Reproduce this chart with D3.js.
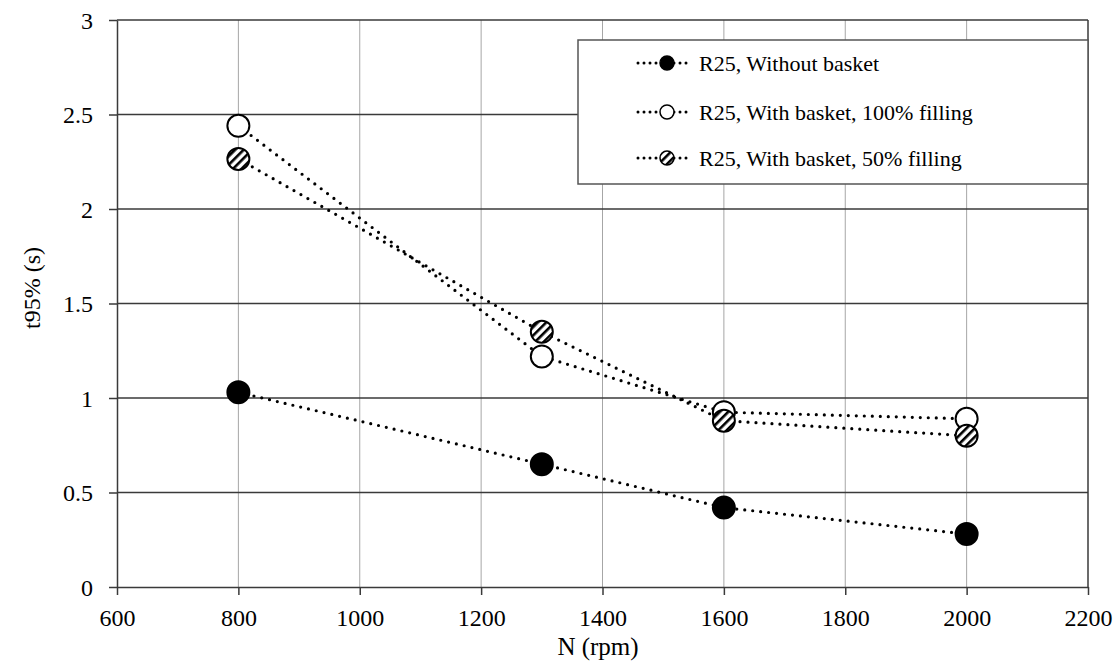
<!DOCTYPE html>
<html>
<head>
<meta charset="utf-8">
<script src="https://cdn.jsdelivr.net/npm/d3@7"></script>
<style>
  body { margin: 0; background: #fff; }
  svg text { font-family: "Liberation Serif", "DejaVu Serif", serif; fill: #000; }
</style>
</head>
<body>
<div id="chart"></div>
<script>
// Data
const rpm = [800, 1300, 1600, 2000];
const withoutBasket = [1.03, 0.65, 0.42, 0.28];
const basket100 = [2.44, 1.22, 0.925, 0.89];
const basket50 = [2.265, 1.35, 0.88, 0.80];
const seriesNames = ["R25, Without basket", "R25, With basket, 100% filling", "R25, With basket, 50% filling"];
const xTicks = [600, 800, 1000, 1200, 1400, 1600, 1800, 2000, 2200];
const yTicks = [0, 0.5, 1, 1.5, 2, 2.5, 3];

const series = [
  { name: seriesNames[0], values: withoutBasket, fill: "#000" },
  { name: seriesNames[1], values: basket100, fill: "#fff" },
  { name: seriesNames[2], values: basket50, fill: "url(#hatch)" }
];

const serif = "'Liberation Serif', 'DejaVu Serif', serif";

const W = 1119, H = 661;
const margin = { top: 20, right: 31, bottom: 74, left: 117 };
const width = W - margin.left - margin.right,
      height = H - margin.top - margin.bottom;

const svg = d3.select("#chart").append("svg")
  .attr("width", W)
  .attr("height", H);

// hatch pattern for the 50% filling markers
const defs = svg.append("defs");
const pat = defs.append("pattern")
  .attr("id", "hatch")
  .attr("patternUnits", "userSpaceOnUse")
  .attr("width", 6).attr("height", 6)
  .attr("patternTransform", "rotate(45)");
pat.append("rect").attr("width", 6).attr("height", 6).attr("fill", "#fff");
pat.append("rect").attr("width", 2.6).attr("height", 6).attr("fill", "#000");

const g = svg.append("g")
  .attr("transform", "translate(" + margin.left + "," + margin.top + ")");

const x = d3.scaleLinear().domain([600, 2200]).range([0, width]);
const y = d3.scaleLinear().domain([0, 3]).range([height, 0]);

// vertical gridlines (light)
g.append("g").selectAll("line")
  .data(xTicks.slice(1, -1))
  .enter().append("line")
  .attr("x1", d => x(d)).attr("x2", d => x(d))
  .attr("y1", 0).attr("y2", height)
  .attr("stroke", "#a6a6a6").attr("stroke-width", 1);

// horizontal gridlines (dark)
g.append("g").selectAll("line")
  .data(yTicks.slice(1))
  .enter().append("line")
  .attr("x1", 0).attr("x2", width)
  .attr("y1", d => y(d)).attr("y2", d => y(d))
  .attr("stroke", "#3a3a3a").attr("stroke-width", 1.5);

// right border
g.append("line")
  .attr("x1", width).attr("x2", width)
  .attr("y1", 0).attr("y2", height)
  .attr("stroke", "#3a3a3a").attr("stroke-width", 1.5);

// X axis
const xAxis = g.append("g")
  .attr("transform", "translate(0," + height + ")")
  .call(d3.axisBottom(x).tickValues(xTicks).tickSize(8).tickSizeOuter(0).tickPadding(14).tickFormat(d3.format("d")));
// Y axis
const yAxis = g.append("g")
  .call(d3.axisLeft(y).tickValues(yTicks).tickSize(8).tickSizeOuter(0).tickPadding(16).tickFormat(d3.format("")));

[xAxis, yAxis].forEach(a => {
  a.attr("font-family", serif);
  a.select(".domain").attr("stroke", "#3a3a3a").attr("stroke-width", 1.5);
  a.selectAll(".tick line").attr("stroke", "#3a3a3a").attr("stroke-width", 1.5);
  a.selectAll("text").attr("font-family", serif).style("font-size", "24px").attr("fill", "#000");
});
yAxis.selectAll("text").attr("dy", "0.35em");

// Axis titles
svg.append("text")
  .attr("x", 598)
  .attr("y", 655)
  .attr("text-anchor", "middle")
  .attr("font-family", serif)
  .style("font-size", "25px")
  .text("N (rpm)");

svg.append("text")
  .attr("transform", "translate(40,288) rotate(-90)")
  .attr("text-anchor", "middle")
  .attr("font-family", serif)
  .style("font-size", "24px")
  .text("t95% (s)");

// Lines
const line = d3.line()
  .x((d, i) => x(rpm[i]))
  .y(d => y(d));

g.selectAll(".series-line")
  .data(series)
  .enter().append("path")
  .attr("class", "series-line")
  .attr("d", d => line(d.values))
  .attr("fill", "none")
  .attr("stroke", "#000")
  .attr("stroke-width", 3.2)
  .attr("stroke-linecap", "round")
  .attr("stroke-dasharray", "0 8");

// Markers
series.forEach(s => {
  g.append("g").selectAll("circle")
    .data(s.values)
    .enter().append("circle")
    .attr("cx", (d, i) => x(rpm[i]))
    .attr("cy", d => y(d))
    .attr("r", 11)
    .attr("fill", s.fill)
    .attr("stroke", "#000")
    .attr("stroke-width", 2);
});

// Legend
const legend = svg.append("g").attr("transform", "translate(578,40)");
legend.append("rect")
  .attr("width", 510).attr("height", 144)
  .attr("fill", "#fff")
  .attr("stroke", "#555").attr("stroke-width", 1.5);

const rowY = [23, 72, 118];
series.forEach((s, i) => {
  const row = legend.append("g").attr("transform", "translate(0," + rowY[i] + ")");
  row.append("line")
    .attr("x1", 60).attr("x2", 113)
    .attr("y1", 0).attr("y2", 0)
    .attr("stroke", "#000").attr("stroke-width", 3)
    .attr("stroke-linecap", "round")
    .attr("stroke-dasharray", "0 6");
  row.append("circle")
    .attr("cx", 89).attr("cy", 0).attr("r", 7)
    .attr("fill", s.fill)
    .attr("stroke", "#000").attr("stroke-width", 1.5);
  row.append("text")
    .attr("x", 121).attr("y", 0).attr("dy", "0.35em")
    .attr("font-family", serif)
    .style("font-size", "22px")
    .text(s.name);
});
</script>
</body>
</html>
